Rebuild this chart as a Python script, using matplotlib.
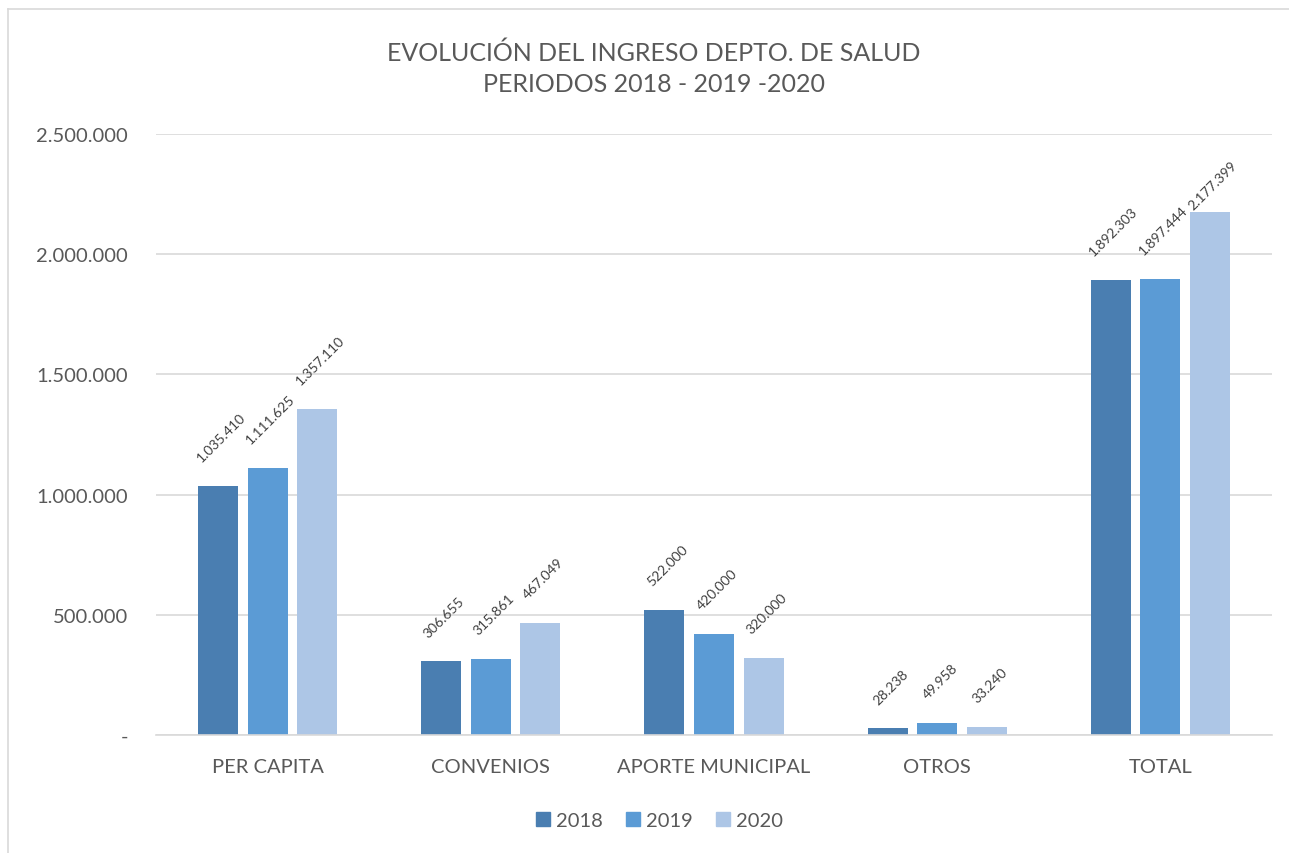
import matplotlib
matplotlib.use("Agg")
import matplotlib.pyplot as plt
import numpy as np
from matplotlib.lines import Line2D
from matplotlib.ticker import FuncFormatter
from matplotlib.transforms import blended_transform_factory

categories = ["PER CAPITA", "CONVENIOS", "APORTE MUNICIPAL", "OTROS", "TOTAL"]
series_names = ["2018", "2019", "2020"]
v2018 = [1035410, 306655, 522000, 28238, 1892303]
v2019 = [1111625, 315861, 420000, 49958, 1897444]
v2020 = [1357110, 467049, 320000, 33240, 2177399]
colors = ["#4A7EB1", "#5B9BD5", "#ADC6E6"]
yticks = [0, 500000, 1000000, 1500000, 2000000, 2500000]

plt.rcParams['font.family'] = ['Lato', 'DejaVu Sans']
TXT = "#595959"

W, H = 1289, 854
fig = plt.figure(figsize=(W/100, H/100), dpi=100)
ax = fig.add_axes([156/W, 1-736/H, (1272-156)/W, (736-135)/H])

x = np.arange(len(categories))
bw = 0.179
step = 0.222
# label offset (points); the top TOTAL-2020 label sits right at the bar top in the reference
label_offsets = {(4, 2): 0}
for i, vals in enumerate([v2018, v2019, v2020]):
    pos = x + (i-1)*step
    ax.bar(pos, vals, width=bw, color=colors[i], label=series_names[i], zorder=3)
    for j, (p, v) in enumerate(zip(pos, vals)):
        lbl = f"{v:,}".replace(",", ".")
        off = label_offsets.get((j, i), 16)
        ax.annotate(lbl, (p, v), xytext=(2, off), textcoords="offset points",
                    rotation=45, ha="center", va="bottom", fontsize=10, color="#404040")

ax.set_xlim(-0.5, len(categories)-0.5)
ax.set_ylim(0, 2500000)
ax.set_yticks(yticks)
ax.yaxis.set_major_formatter(FuncFormatter(lambda v, p: "-" if v == 0 else f"{int(v):,}".replace(",", ".")))
ax.set_xticks(x)
ax.set_xticklabels([])
ax.tick_params(axis='both', length=0, labelsize=14.5, colors=TXT)
ax.tick_params(axis='y', pad=20)
ax.grid(axis='y', color="#D9D9D9", linewidth=1.2, zorder=0)
for s in ["top", "right", "left"]:
    ax.spines[s].set_visible(False)
ax.spines["bottom"].set_color("#D9D9D9")
ax.spines["bottom"].set_linewidth(1.2)
ax.spines["bottom"].set_zorder(4)

btrans = blended_transform_factory(ax.transData, fig.transFigure)
for xi, c in zip(x, categories):
    ax.text(xi, 1-773/H, c, transform=btrans, ha="center", va="baseline",
            fontsize=14.5, color=TXT)

fig.text(654/W, 1-61/H, "EVOLUCIÓN DEL INGRESO DEPTO. DE SALUD", ha="center", va="baseline",
         fontsize=18, color=TXT)
fig.text(654/W, 1-92/H, "PERIODOS 2018 - 2019 -2020", ha="center", va="baseline",
         fontsize=18, color=TXT)

handles = [Line2D([0], [0], marker='s', linestyle='none', markersize=10,
                  markerfacecolor=c, markeredgecolor=c) for c in colors]
fig.legend(handles, series_names, loc="center", bbox_to_anchor=(658/W, 1-821/H), ncol=3,
           frameon=False, fontsize=14.5, labelcolor=TXT, handletextpad=0.15,
           columnspacing=1.0, handlelength=1.0)

# chart border
fig.add_artist(Line2D([8/W, 8/W], [0, 1-10/H], transform=fig.transFigure, color="#D9D9D9", linewidth=1.2))
fig.add_artist(Line2D([8/W, 1], [1-10/H, 1-10/H], transform=fig.transFigure, color="#D9D9D9", linewidth=1.2))

fig.savefig("out.png", dpi=100, facecolor="white")
